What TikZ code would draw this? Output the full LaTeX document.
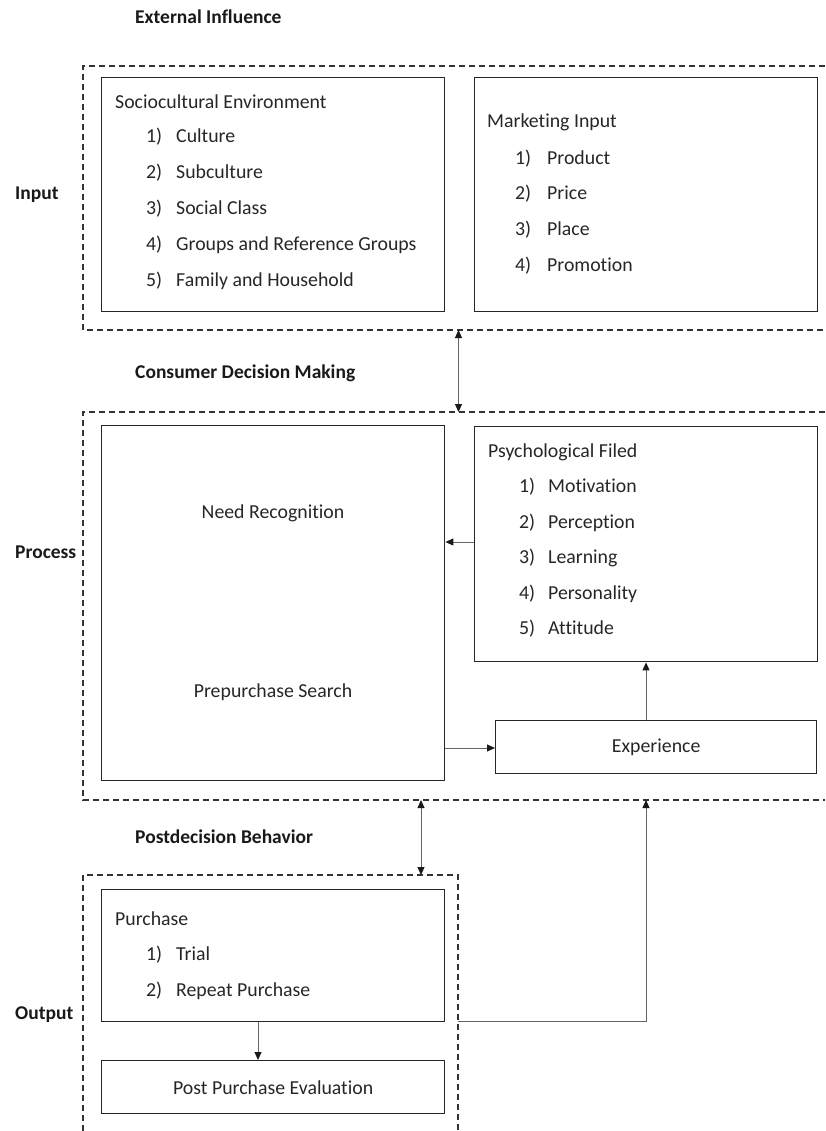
\documentclass[tikz,border=0pt]{standalone}
\usepackage{fontspec}
\setmainfont{Carlito}[Ligatures={NoCommon}]
\usetikzlibrary{arrows.meta}
\begin{document}
\begin{tikzpicture}[x=1pt,y=-1pt,
  box/.style={draw=black!85, line width=1.4pt, anchor=north west, inner sep=0pt},
  zone/.style={draw=black!80, line width=1.1pt, dash pattern=on 6pt off 4pt},
  tip/.tip={Triangle[length=8pt,width=7pt,color=black!90]},
  link/.style={draw=black!60, line width=0.9pt, -tip},
  both/.style={draw=black!60, line width=0.9pt, tip-tip},
  txt/.style={anchor=base west, inner sep=0pt, font=\fontsize{19.8}{22}\selectfont, text=black!85},
  ctr/.style={inner sep=0pt, font=\fontsize{19.8}{22}\selectfont, text=black!85},
  head/.style={anchor=west, inner sep=0pt, font=\fontsize{19.5}{22}\selectfont\bfseries, text=black!90}]
\useasboundingbox (0,0) rectangle (825,1131);

% ---- group frames (open on the right / bottom) ----
\draw[zone] (825,66) -- (83,66) -- (83,330) -- (825,330);
\draw[zone] (825,412) -- (83,412) -- (83,800) -- (825,800);
\draw[zone] (83,1131) -- (83,875) -- (458,875) -- (458,1131);

% ---- section headings and row labels ----
\node[head] (hExt) at (135,17) {External Influence};
\node[head] (hCdm) at (135,373) {Consumer Decision Making};
\node[head] (hPdb) at (135,837) {Postdecision Behavior};
\node[head] (lIn) at (15,195) {Input};
\node[head] (lProc) at (15,552) {Process};
\node[head] (lOut) at (15,1015) {Output};

% ---- input boxes ----
\node[box, minimum width=343pt, minimum height=234pt] (soc) at (101,77) {};
\node[txt] (socH) at (115,109) {Sociocultural Environment};
\node[txt] (socN1) at (146,143) {1)}; \node[txt] (socT1) at (176,143) {Culture};
\node[txt] (socN2) at (146,179) {2)}; \node[txt] (socT2) at (176,179) {Subculture};
\node[txt] (socN3) at (146,215) {3)}; \node[txt] (socT3) at (176,215) {Social Class};
\node[txt] (socN4) at (146,251) {4)}; \node[txt] (socT4) at (176,251) {Groups and Reference Groups};
\node[txt] (socN5) at (146,287) {5)}; \node[txt] (socT5) at (176,287) {Family and Household};

\node[box, minimum width=343pt, minimum height=234pt] (mkt) at (474,77) {};
\node[txt] (mktH) at (487,128) {Marketing Input};
\node[txt] (mktN1) at (515,165) {1)}; \node[txt] (mktT1) at (547,165) {Product};
\node[txt] (mktN2) at (515,200) {2)}; \node[txt] (mktT2) at (547,200) {Price};
\node[txt] (mktN3) at (515,236) {3)}; \node[txt] (mktT3) at (547,236) {Place};
\node[txt] (mktN4) at (515,272) {4)}; \node[txt] (mktT4) at (547,272) {Promotion};

% ---- process boxes ----
\node[box, minimum width=343pt, minimum height=355pt] (need) at (101,425) {};
\node[ctr] (needT) at (273,513) {Need Recognition};
\node[ctr] (searchT) at (273,692) {Prepurchase Search};

\node[box, minimum width=343pt, minimum height=235pt] (psy) at (474,426) {};
\node[txt] (psyH) at (488,457) {Psychological Filed};
\node[txt] (psyN1) at (519,492) {1)}; \node[txt] (psyT1) at (548,492) {Motivation};
\node[txt] (psyN2) at (519,528) {2)}; \node[txt] (psyT2) at (548,528) {Perception};
\node[txt] (psyN3) at (519,563) {3)}; \node[txt] (psyT3) at (548,563) {Learning};
\node[txt] (psyN4) at (519,599) {4)}; \node[txt] (psyT4) at (548,599) {Personality};
\node[txt] (psyN5) at (519,634) {5)}; \node[txt] (psyT5) at (548,634) {Attitude};

\node[box, minimum width=321pt, minimum height=53pt] (exp) at (495,720) {};
\node[ctr] (expT) at (exp.center) {Experience};

% ---- output boxes ----
\node[box, minimum width=343pt, minimum height=132pt] (pur) at (101,889) {};
\node[txt] (purH) at (115,925) {Purchase};
\node[txt] (purN1) at (146,960) {1)}; \node[txt] (purT1) at (176,960) {Trial};
\node[txt] (purN2) at (146,996) {2)}; \node[txt] (purT2) at (176,996) {Repeat Purchase};

\node[box, minimum width=343pt, minimum height=53pt] (ppe) at (101,1060) {};
\node[ctr] (ppeT) at (ppe.center) {Post Purchase Evaluation};

% ---- connectors ----
\coordinate (inBot) at (458.5,330);
\coordinate (prTop) at (458.5,412);
\draw[both] (inBot) -- (prTop);

\coordinate (prBot) at (421,800);
\coordinate (outTop) at (421,875);
\draw[both] (prBot) -- (outTop);

\draw[link] (psy.west |- 0,542) -- (need.east |- 0,542);
\draw[link] (need.east |- 0,748) -- (exp.west |- 0,748);
\draw[link] (exp.north -| 646,0) -- (psy.south -| 646,0);

\coordinate (outSide) at (458,1021);
\coordinate (turn) at (646,1021);
\coordinate (prBot2) at (646,800);
\draw[link] (outSide) -- (turn) -- (prBot2);

\draw[link] (pur.south -| 258,0) -- (ppe.north -| 258,0);
\end{tikzpicture}
\end{document}
